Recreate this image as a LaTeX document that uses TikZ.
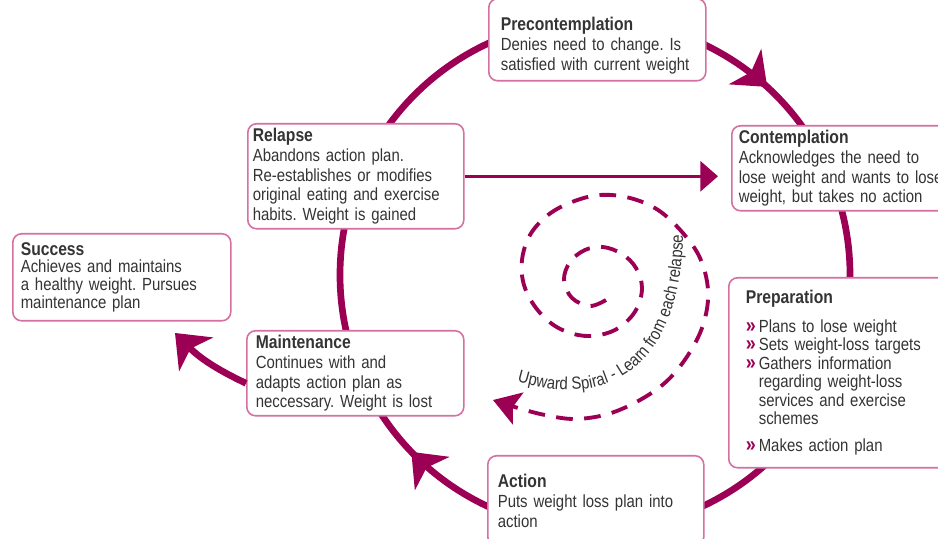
\documentclass[tikz,border=0pt]{standalone}
\usepackage{fontspec}
\setmainfont{Liberation Sans}[FakeStretch=0.85]
\usetikzlibrary{arrows.meta,decorations.markings,decorations.text}

\definecolor{cyclered}{RGB}{155,0,85}
\definecolor{boxpink}{RGB}{212,112,162}
\definecolor{textgray}{RGB}{52,52,52}

\newcommand{\stagetitle}[1]{{\fontsize{10.5}{11.3}\selectfont\bfseries #1}}
\newcommand{\prepitem}{\makebox[0.26cm][l]{\textcolor{cyclered}{\fontsize{12}{10}\selectfont\bfseries »}}}
\newcommand{\prepgap}{\hspace*{0.26cm}}

\tikzset{
  stage/.style={draw=boxpink, line width=0.9pt, rounded corners=5pt, fill=white,
    anchor=north west, align=left, inner ysep=2pt, text=textgray,
    font=\fontsize{10}{11.3}\selectfont},
  cycleline/.style={draw=cyclered, line width=3.8pt},
  spiralline/.style={draw=cyclered, line width=2.2pt, dash pattern=on 9.5pt off 6.5pt},
  cyclehead/.tip={Stealth[length=17pt,width=27pt,inset=4.5pt]}
}

\begin{document}
\frenchspacing
\begin{tikzpicture}
    \fill[white] (0,0) rectangle (18.76,10.78);
    \useasboundingbox (0,0) rectangle (18.76,10.78);

    % big cycle, clockwise
    \coordinate (cyclec) at (11.9,5.28);
    \draw[cycleline, postaction={decorate}, decoration={markings,
        mark=at position 0.118 with {\arrow{cyclehead}},
        mark=at position 0.628 with {\arrow{cyclehead}}}]
        ([shift={(90:5.1)}]cyclec) arc[start angle=90, end angle=-270, radius=5.1];

    % upward spiral
    \draw[spiralline, -{Stealth[length=15pt,width=19pt,inset=3pt]}] plot[smooth, tension=0.6] coordinates {
        (12.12,4.78) (11.80,4.66) (11.44,4.82) (11.28,5.18) (11.40,5.54) (11.70,5.78)
        (12.06,5.84) (12.44,5.70) (12.72,5.42) (12.84,5.02) (12.72,4.58) (12.40,4.24)
        (12.00,4.08) (11.56,4.08) (11.10,4.26) (10.72,4.62) (10.48,5.08) (10.44,5.58)
        (10.60,6.08) (10.96,6.48) (11.44,6.74) (12.00,6.88) (12.60,6.82) (13.16,6.58)
        (13.64,6.14) (14.00,5.62) (14.16,4.98) (14.08,4.34) (13.80,3.74) (13.36,3.18)
        (12.80,2.78) (12.16,2.50) (11.50,2.40) (10.90,2.48) (10.36,2.62) (9.86,2.78)};
    \path[decorate, decoration={text along path, text align=center,
        text={|\fontsize{10}{10}\selectfont\color{textgray}|Upward Spiral - Learn from each relapse}}]
        (10.00,3.26) .. controls (12.40,2.36) and (13.74,3.70) .. (13.66,6.44);

    % stages
    \node[stage, text width=3.86cm, inner xsep=0.24cm, minimum height=1.64cm] (precon) at (9.76,10.82)
        {\stagetitle{\rule{0pt}{14pt}Precontemplation}\\Denies need to change. Is\\satisfied with current weight};
    \node[stage, text width=4.34cm, inner xsep=0.14cm, minimum height=1.70cm] (contemp) at (14.62,8.28)
        {\stagetitle{Contemplation}\\Acknowledges the need to\\lose weight and wants to lose\\weight, but takes no action};
    \node[stage, text width=3.92cm, inner xsep=0.34cm, minimum height=3.80cm,
        font=\fontsize{10}{10.5}\selectfont] (prep) at (14.56,5.24)
        {\stagetitle{Preparation}\\[6pt]
         \prepitem Plans to lose weight\\
         \prepitem Sets weight-loss targets\\
         \prepitem Gathers information\\
         \prepgap regarding weight-loss\\
         \prepgap services and exercise\\
         \prepgap schemes\\[5pt]
         \prepitem Makes action plan};
    \node[stage, text width=3.92cm, inner xsep=0.2cm, minimum height=1.80cm] (action) at (9.74,1.68)
        {\stagetitle{Action}\\Puts weight loss plan into\\action};
    \node[stage, text width=3.98cm, inner xsep=0.18cm, minimum height=1.70cm] (maint) at (4.92,4.18)
        {\stagetitle{Maintenance}\\Continues with and\\adapts action plan as\\neccessary. Weight is lost};
    \node[stage, text width=4.12cm, inner xsep=0.1cm, minimum height=2.10cm] (relapse) at (4.94,8.32)
        {\stagetitle{Relapse}\\Abandons action plan.\\Re-establishes or modifies\\original eating and exercise\\habits. Weight is gained};
    \node[stage, text width=4.04cm, inner xsep=0.16cm, minimum height=1.74cm,
        font=\fontsize{10}{10.2}\selectfont] (success) at (0.24,6.12)
        {\stagetitle{Success}\\Achieves and maintains\\a healthy weight. Pursues\\maintenance plan};

    % relapse back to contemplation
    \draw[cyclered, line width=1.7pt, -{Triangle[length=10pt,width=17pt]}, shorten >=0.26cm]
        (relapse.east) -- (relapse.east -| contemp.west);

    % way out to success
    \coordinate (succtip) at (3.50,4.12);
    \draw[cycleline, -{cyclehead}] ([yshift=-0.2cm]maint.west) to[bend left=10] (succtip);
\end{tikzpicture}
\end{document}
